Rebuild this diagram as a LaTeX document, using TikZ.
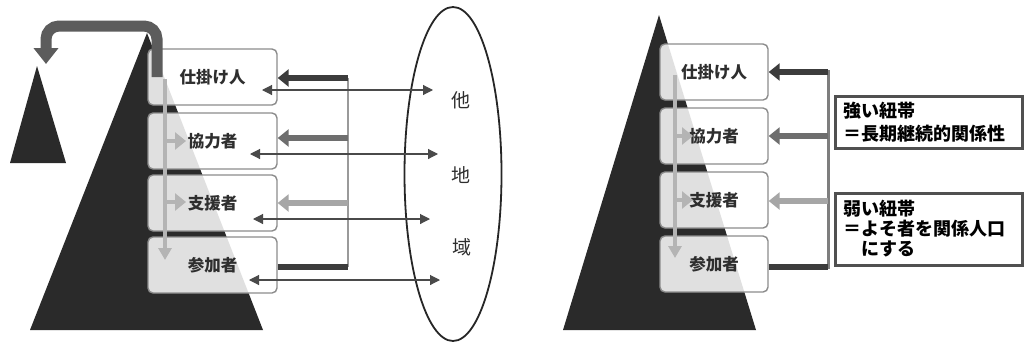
\documentclass[tikz,border=0pt]{standalone}
\usepackage{fontspec}
\newfontfamily\jp{Noto Sans CJK JP}
\usetikzlibrary{arrows.meta,calc,shapes.geometric}
\definecolor{tri}{HTML}{2A2A2A}
\definecolor{boxline}{HTML}{8C8C8C}
\definecolor{darkarr}{HTML}{3C3C3C}
\definecolor{midarr}{HTML}{6E6E6E}
\definecolor{lightarr}{HTML}{A6A6A6}
\definecolor{flow}{HTML}{B4B4B4}
\definecolor{curv}{HTML}{5C5C5C}
\definecolor{thinarr}{HTML}{4A4A4A}
\definecolor{bracket}{HTML}{9A9A9A}
\definecolor{bracketr}{HTML}{7E7E7E}
\definecolor{lblline}{HTML}{505050}
\definecolor{txt}{HTML}{2E2E2E}
\begin{document}
\begin{tikzpicture}[x=1pt,y=-1pt,
  pbox/.style={draw=boxline, line width=1.4pt, fill=white, fill opacity=0.86, text opacity=1,
    rounded corners=5pt, minimum height=56pt, inner sep=0pt,
    font=\jp\bfseries\fontsize{16.5}{18}\selectfont, text=txt},
  flowarr/.style={draw=flow, line width=4pt, -{Triangle[length=12pt,width=13pt]}},
  flowbr/.style={draw=flow, line width=4pt, -{Triangle[length=11pt,width=17pt]}},
  thk/.style={line width=5.5pt, -{Triangle[length=11pt,width=17pt]}},
  thkline/.style={line width=5.5pt},
  twoway/.style={draw=thinarr, line width=1.1pt, {Triangle[length=10pt,width=10pt]}-{Triangle[length=10pt,width=10pt]}},
  lbl/.style={draw=lblline, line width=3pt, fill=white, minimum width=187pt, minimum height=52pt,
    align=left, text width=170pt, inner xsep=8.5pt, inner ysep=2pt,
    font=\jp\bfseries\fontsize{18}{23}\selectfont, text=black},
  region/.style={font=\jp\fontsize{19}{19}\selectfont, text=txt, inner sep=0pt}
]
\fill[white] (0,0) rectangle (1024,343);
\useasboundingbox (0,0) rectangle (1024,343);

% ---------- left diagram ----------
\fill[tri] (147,33) -- (263,330) -- (30,330) -- cycle;
\fill[tri] (37,66) -- (66,163) -- (10,163) -- cycle;

\node[pbox, minimum width=129pt] (L1) at (212.5,77) {仕掛け人};
\node[pbox, minimum width=129pt] (L2) at (212.5,141) {協力者};
\node[pbox, minimum width=129pt] (L3) at (212.5,203) {支援者};
\node[pbox, minimum width=129pt] (L4) at (212.5,265) {参加者};

% curved arrow to the small pyramid
\coordinate (c0) at (157,77);
\coordinate (c1) at (157,26);
\coordinate (c2) at (46,26);
\coordinate (c3) at (46,64);
\draw[curv, line width=11pt, rounded corners=13pt, -{Triangle[length=16pt,width=24pt]}]
  (c0) -- (c1) -- (c2) -- (c3);

% vertical flow arrow
\coordinate (f0) at (165,79);
\coordinate (f9) at (165,260);
\draw[flowarr] (f0) -- (f9);
\coordinate (b2) at (165,141);
\coordinate (b2e) at (186,141);
\coordinate (b3) at (165,202);
\coordinate (b3e) at (186,202);
\draw[flowbr] (b2) -- (b2e);
\draw[flowbr] (b3) -- (b3e);

% feedback bracket
\coordinate (K1) at (348,78);
\coordinate (K2) at (348,138);
\coordinate (K3) at (348,203);
\coordinate (K4) at (348,267);
\draw[draw=bracket, line width=1.5pt] (K1) -- (K4);
\draw[thk, draw=darkarr, fill=darkarr] (K1) -- (K1 -| L1.east);
\draw[thk, draw=midarr, fill=midarr] (K2) -- (K2 -| L2.east);
\draw[thk, draw=lightarr, fill=lightarr] (K3) -- (K3 -| L3.east);
\draw[thkline, draw=darkarr] (K4 -| L4.east) -- (K4);

% other region
\node[draw=black!85, line width=1.8pt, ellipse, minimum width=97pt, minimum height=334pt, inner sep=0pt] (E) at (453,174) {};
\node[region] (t1) at (461,100) {他};
\node[region] (t2) at (461,175) {地};
\node[region] (t3) at (462,247) {域};

\coordinate (a1) at (262,90);  \coordinate (e1) at (433,90);
\coordinate (a2) at (250,154); \coordinate (e2) at (438,154);
\coordinate (a3) at (253,219); \coordinate (e3) at (430,219);
\coordinate (a4) at (249,280); \coordinate (e4) at (440,280);
\draw[twoway] (a1) -- (e1);
\draw[twoway] (a2) -- (e2);
\draw[twoway] (a3) -- (e3);
\draw[twoway] (a4) -- (e4);

% ---------- right diagram ----------
\fill[tri] (659,15) -- (756,330) -- (563,330) -- cycle;

\node[pbox, minimum width=108pt] (R1) at (714,72) {仕掛け人};
\node[pbox, minimum width=108pt] (R2) at (714,136) {協力者};
\node[pbox, minimum width=108pt] (R3) at (714,200) {支援者};
\node[pbox, minimum width=108pt] (R4) at (714,264) {参加者};

\coordinate (g0) at (675,75);
\coordinate (g9) at (675,258);
\draw[flowarr] (g0) -- (g9);
\coordinate (h2) at (675,136);
\coordinate (h2e) at (693,136);
\coordinate (h3) at (675,200);
\coordinate (h3e) at (693,200);
\draw[flowbr] (h2) -- (h2e);
\draw[flowbr] (h3) -- (h3e);

\coordinate (Q1) at (828,72);
\coordinate (Q2) at (828,136);
\coordinate (Q3) at (828,201);
\coordinate (Q4) at (828,267);
\draw[draw=bracketr, line width=3pt] (828,70) -- (828,269);
\draw[thk, draw=darkarr, fill=darkarr] (Q1) -- (Q1 -| R1.east);
\draw[thk, draw=midarr, fill=midarr] (Q2) -- (Q2 -| R2.east);
\draw[thk, draw=lightarr, fill=lightarr] (Q3) -- (Q3 -| R3.east);
\draw[thkline, draw=darkarr] (Q4 -| R4.east) -- (Q4);

\node[lbl] (S) at (928.5,122) {強い紐帯\\＝長期継続的関係性};
\node[lbl, minimum height=72pt, font=\jp\bfseries\fontsize{18}{20}\selectfont] (W) at (928.5,229) {弱い紐帯\\＝よそ者を関係人口\\　にする};
\end{tikzpicture}
\end{document}
